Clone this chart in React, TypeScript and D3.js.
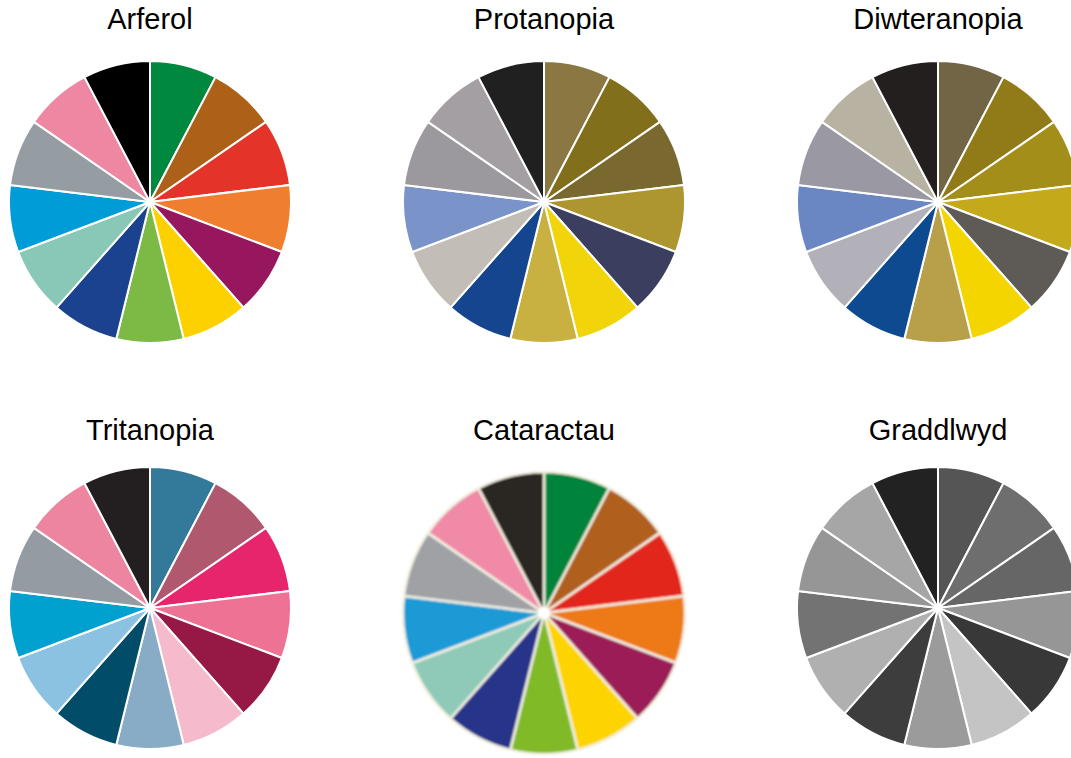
import React from "react";
import * as d3 from "d3";

const slices = ["1", "2", "3", "4", "5", "6", "7", "8", "9", "10", "11", "12", "13"];
const sliceValues = [1, 1, 1, 1, 1, 1, 1, 1, 1, 1, 1, 1, 1];

const titles = ["Arferol", "Protanopia", "Diwteranopia", "Tritanopia", "Cataractau", "Graddlwyd"];

const arferol = ["#00883F", "#AD6118", "#E4342A", "#EF7F2E", "#96175E", "#FDD100", "#7DBA45", "#1A428F", "#89C8B6", "#009CD7", "#959CA2", "#EE87A2", "#000000"];
const protanopia = ["#8A7741", "#826F1C", "#7A692F", "#AD952F", "#3B3E5E", "#F2D40A", "#C8B140", "#14458E", "#C2BEB7", "#7A93C9", "#9B989E", "#A39FA2", "#202020"];
const diwteranopia = ["#716545", "#917B18", "#A48E1A", "#C4A91B", "#5E5A56", "#F5D500", "#B89F4A", "#0D4A8F", "#B2B1BA", "#6A87C3", "#9A98A2", "#B8B2A2", "#231F1F"];
const tritanopia = ["#337A9A", "#B0586E", "#E6256C", "#ED7293", "#961945", "#F5BACB", "#88ACC6", "#004C69", "#8BC2E1", "#00A0CF", "#959BA3", "#EE85A0", "#231F20"];
const cataractau = ["#00843A", "#B05F1A", "#E2261B", "#ED7A13", "#9B1A56", "#FDD400", "#80BA28", "#28348A", "#8FCAB8", "#1C9AD6", "#9FA1A5", "#F08AA7", "#2C2523"];
const graddlwyd = ["#555555", "#6E6E6E", "#666666", "#969696", "#383838", "#C5C4C5", "#9B9B9B", "#3D3D3D", "#B0B0B0", "#737373", "#969696", "#A6A6A6", "#222222"];

const palettes = [arferol, protanopia, diwteranopia, tritanopia, cataractau, graddlwyd];

const W = 1071;
const H = 758;
const colX = [150, 544, 938];
const rowY = [202, 608];
const titleY = [29, 440];
const R = 141;

export default function App() {
  const pie = d3.pie<number>().sort(null).value((d) => d);
  const arcs = pie(sliceValues);
  const arcGen = d3.arc<d3.PieArcDatum<number>>().innerRadius(0).outerRadius(R);

  return (
    <svg
      width={W}
      height={H}
      style={{ position: "absolute", left: 0, top: 0, background: "#fff" }}
      fontFamily="'Liberation Sans', Arial, sans-serif"
    >
      <defs>
        <filter id="cataract" x="-10%" y="-10%" width="120%" height="120%">
          <feGaussianBlur stdDeviation="1.1" />
        </filter>
      </defs>
      <rect width={W} height={H} fill="#fff" />
      {titles.map((t, i) => {
        const cx = colX[i % 3];
        const cy = rowY[Math.floor(i / 3)] + (i === 4 ? 5 : 0);
        const ty = titleY[Math.floor(i / 3)];
        const isCat = i === 4;
        return (
          <g key={t}>
            <text x={cx} y={ty} textAnchor="middle" fontSize={29} fill="#000">
              {t}
            </text>
            <g transform={`translate(${cx},${cy})`} filter={isCat ? "url(#cataract)" : undefined}>
              {arcs.map((a, j) => (
                <path
                  key={slices[j]}
                  d={arcGen(a) || ""}
                  fill={palettes[i][j]}
                  stroke={isCat ? "#F3F1E2" : "#fff"}
                  strokeWidth={isCat ? 2.5 : 2}
                  strokeLinejoin="round"
                />
              ))}
              {isCat && <circle r={6} fill="#fff" />}
            </g>
          </g>
        );
      })}
    </svg>
  );
}
